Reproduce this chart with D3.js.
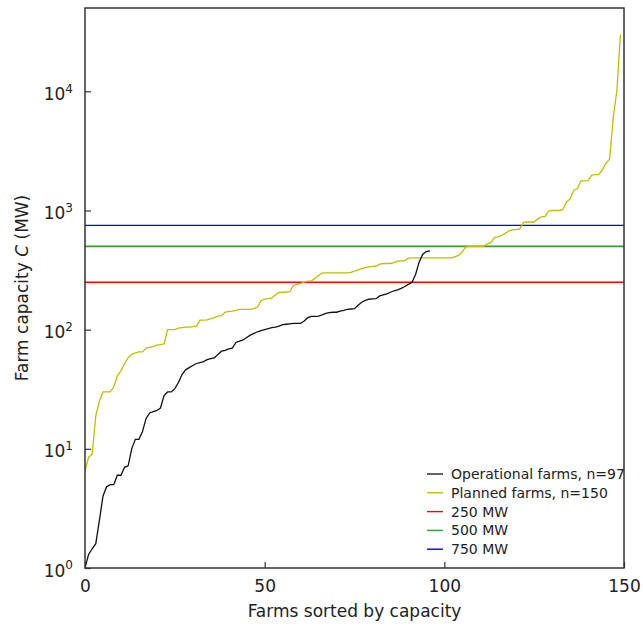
<!DOCTYPE html>
<html>
<head>
<meta charset="utf-8">
<script src="https://cdn.jsdelivr.net/npm/d3@7"></script>
<style>
  body { margin: 0; background: #fff; }
  svg text { font-family: "DejaVu Sans", sans-serif; fill: #222; }
</style>
</head>
<body>
<svg id="chart" width="643" height="627"></svg>
<script>
// operational farms, sorted capacity (MW), n=97
const operational = [
  1.0, 1.3, 1.45, 1.6, 2.5, 4.0, 4.8, 5.0, 5.0, 6.0,
  6.0, 7.0, 7.2, 10, 12, 12, 14, 18, 20, 20.5,
  21, 22, 28, 30, 30, 32, 36, 42, 46, 48,
  50, 52, 53, 54, 56, 57, 58, 62, 66, 67,
  69, 70, 78, 80, 82, 86, 90, 93, 96, 98,
  100, 102, 104, 105, 107, 110, 111, 112, 113, 113,
  113, 118, 126, 129, 129, 130, 133, 137, 139, 140,
  140, 143, 145, 148, 149, 150, 160, 170, 176, 180,
  181, 182, 192, 196, 200, 206, 212, 216, 222, 230,
  240, 250, 290, 370, 430, 452, 458
];

// planned farms, sorted capacity (MW), n=150
const planned = [
  6.5, 8.5, 9.0, 19, 25, 30, 30, 30, 33, 41,
  45, 52, 58, 62, 64, 65, 65, 70, 71, 72,
  74, 75, 76, 100, 100, 100, 103, 104, 105, 105,
  106, 107, 120, 120, 121, 124, 126, 130, 131, 140,
  142, 143, 145, 148, 148, 148, 148, 150, 155, 175,
  180, 182, 185, 195, 205, 206, 207, 208, 235, 240,
  245, 250, 255, 256, 270, 285, 300, 300, 300, 300,
  300, 300, 300, 300, 303, 310, 318, 325, 332, 337,
  340, 342, 355, 359, 359, 359, 365, 375, 377, 378,
  398, 400, 400, 400, 400, 400, 400, 400, 400, 400,
  400, 400, 400, 410, 420, 450, 495, 500, 500, 500,
  500, 500, 525, 540, 595, 600, 620, 645, 675, 690,
  690, 700, 795, 800, 800, 800, 850, 885, 890, 990,
  1000, 1000, 1000, 1020, 1180, 1250, 1480, 1520, 1770, 1770,
  1780, 1980, 2000, 2000, 2200, 2500, 2700, 6000, 10000, 30000
];

const thresholds = [250, 500, 750];
const thresholdColors = ['#ff0000', '#3a9a3a', '#0000ff'];
const xTicks = [0, 50, 100, 150];
const yTicks = [1, 10, 100, 1000, 10000];
const legendLabels = ['Operational farms, n=97', 'Planned farms, n=150', '250 MW', '500 MW', '750 MW'];
const legendColors = ['#222222', '#bfbf00', '#ff0000', '#3a9a3a', '#0000ff'];

const plotLeft = 85, plotRight = 624, plotTop = 8, plotBottom = 568;

const svg = d3.select('#chart');

const x = d3.scaleLinear().domain([0, 150]).range([plotLeft, plotRight]);
const y = d3.scaleLog().domain([1, 50000]).range([plotBottom, plotTop]);

// clip for the data
svg.append('clipPath').attr('id', 'clip')
  .append('rect').attr('x', plotLeft).attr('y', plotTop)
  .attr('width', plotRight - plotLeft).attr('height', plotBottom - plotTop);

const plot = svg.append('g').attr('clip-path', 'url(#clip)');

// threshold lines
plot.selectAll('.thr')
  .data(thresholds)
  .enter().append('line')
  .attr('class', 'thr')
  .attr('x1', plotLeft).attr('x2', plotRight)
  .attr('y1', d => y(d)).attr('y2', d => y(d))
  .attr('stroke', (d, i) => thresholdColors[i])
  .attr('stroke-width', (d, i) => i == 1 ? 1.8 : 1.4);

const line = d3.line()
  .x((d, i) => x(i))
  .y(d => y(d));

plot.append('path')
  .datum(planned)
  .attr('d', line)
  .attr('fill', 'none')
  .attr('stroke', '#bfbf00')
  .attr('stroke-width', 1.3);

plot.append('path')
  .datum(operational)
  .attr('d', line)
  .attr('fill', 'none')
  .attr('stroke', '#111')
  .attr('stroke-width', 1.3);

// axes, ticks inward
const xAxis = d3.axisBottom(x).tickValues(xTicks).tickSizeInner(-6).tickSizeOuter(0).tickPadding(12);
const yAxis = d3.axisLeft(y).tickValues(yTicks).tickSizeInner(-6).tickSizeOuter(0).tickPadding(12)
  .tickFormat(() => '');

const gx = svg.append('g').attr('transform', `translate(0,${plotBottom})`).call(xAxis);
const gy = svg.append('g').attr('transform', `translate(${plotLeft},0)`).call(yAxis);

[gx, gy].forEach(g => {
  g.select('.domain').remove();
  g.selectAll('.tick line').attr('stroke', '#333').attr('stroke-width', 1.2);
  g.selectAll('.tick text').attr('font-size', 17).attr('fill', '#222');
});

// 10^n labels with a real superscript
gy.selectAll('.tick text').attr('dy', '0.48em').each(function(d) {
  const t = d3.select(this);
  t.append('tspan').text('10');
  t.append('tspan').attr('font-size', 12).attr('dy', '-0.6em')
    .text(Math.round(Math.log10(d)));
});

// frame
svg.append('rect')
  .attr('x', plotLeft).attr('y', plotTop)
  .attr('width', plotRight - plotLeft).attr('height', plotBottom - plotTop)
  .attr('fill', 'none').attr('stroke', '#333').attr('stroke-width', 1.5);

// axis labels
svg.append('text')
  .attr('x', (plotLeft + plotRight) / 2).attr('y', 617)
  .attr('text-anchor', 'middle').attr('font-size', 17)
  .text('Farms sorted by capacity');

const yl = svg.append('text')
  .attr('transform', `translate(28,${(plotTop + plotBottom) / 2}) rotate(-90)`)
  .attr('text-anchor', 'middle').attr('font-size', 17);
yl.append('tspan').text('Farm capacity ');
yl.append('tspan').attr('font-style', 'italic').text('C');
yl.append('tspan').text(' (MW)');

// legend
const lg = svg.append('g').attr('transform', 'translate(427,474)');
const rows = lg.selectAll('g')
  .data(legendLabels)
  .enter().append('g')
  .attr('transform', (d, i) => `translate(0,${i * 18.8})`);
rows.append('line')
  .attr('x1', 0).attr('x2', 16).attr('y1', 0).attr('y2', 0)
  .attr('stroke', (d, i) => legendColors[i]).attr('stroke-width', 1.4);
rows.append('text')
  .attr('x', 24).attr('y', 5)
  .attr('font-size', 14)
  .text(d => d);
</script>
</body>
</html>
